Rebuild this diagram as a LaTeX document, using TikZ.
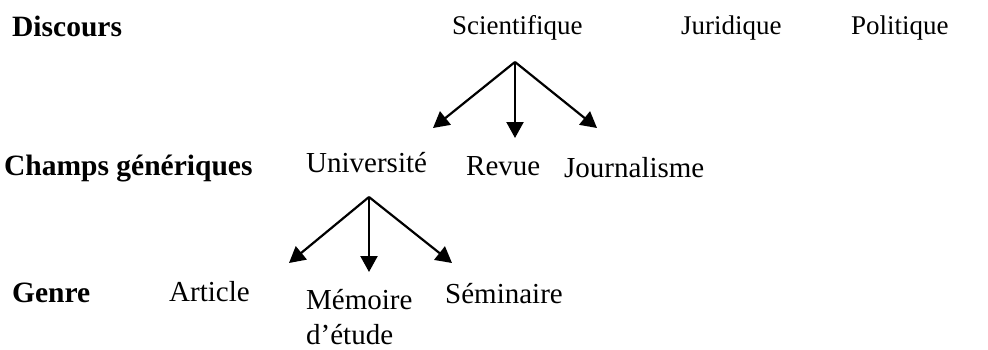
\documentclass[tikz,border=0pt]{standalone}
\usepackage{fontspec}
\setmainfont{Liberation Serif}
\usetikzlibrary{arrows.meta}
\begin{document}
\begin{tikzpicture}[x=1pt,y=-1pt,
  lbl/.style={anchor=base west,inner sep=0pt,font=\fontsize{29}{34}\selectfont},
  toplbl/.style={lbl,font=\fontsize{27}{32}\selectfont},
  hdr/.style={lbl,font=\fontsize{29.5}{34}\selectfont\bfseries},
  arr/.style={line width=2.2pt,-{Triangle[length=16pt,width=17pt]}}]
\useasboundingbox (0,0) rectangle (988,349);
% row 1
\node[hdr] (discours) at (12,36) {Discours};
\node[toplbl] (scient) at (452,34) {Scientifique};
\node[toplbl] (jurid) at (681,34) {Juridique};
\node[toplbl] (polit) at (851,34) {Politique};
% row 2
\node[hdr] (champs) at (4,175) {Champs génériques};
\node[lbl] (univ) at (306,172) {Université};
\node[lbl] (revue) at (466,175) {Revue};
\node[lbl] (journ) at (564,177) {Journalisme};
% row 3
\node[hdr] (genre) at (12,302) {Genre};
\node[lbl] (article) at (169,301) {Article};
\node[lbl] (memoire) at (306,309) {Mémoire};
\node[lbl] (etude) at (306,344) {d’étude};
\node[lbl] (semin) at (445,303) {Séminaire};
% connector points
\coordinate (s1) at (515,62);
\coordinate (t1a) at (433,128);
\coordinate (t1b) at (515,138);
\coordinate (t1c) at (597,128);
\coordinate (s2) at (369,197);
\coordinate (t2a) at (289,263);
\coordinate (t2b) at (369,272);
\coordinate (t2c) at (452,263);
\draw[arr] (s1) -- (t1a);
\draw[arr] (s1) -- (t1b);
\draw[arr] (s1) -- (t1c);
\draw[arr] (s2) -- (t2a);
\draw[arr] (s2) -- (t2b);
\draw[arr] (s2) -- (t2c);
\end{tikzpicture}
\end{document}
